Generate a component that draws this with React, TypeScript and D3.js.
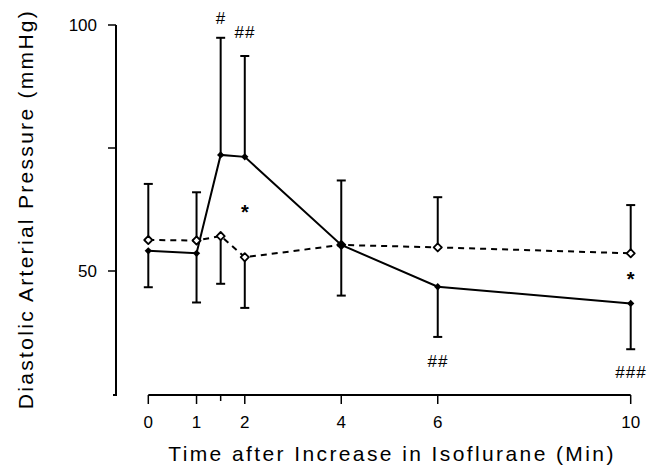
import React from "react";
import * as d3 from "d3";

// minutes after the isoflurane increase
const times = [0, 1, 1.5, 2, 4, 6, 10];
// solid line, filled diamonds
const solidMean = [54.1, 53.6, 73.6, 73.2, 55.3, 46.8, 43.4];
const solidBarEnd = [46.7, 43.6, 97.4, 93.7, 45.0, 36.6, 34.1];
// dashed line, open diamonds
const openMean = [56.3, 56.2, 57.1, 52.8, 55.3, 54.8, 53.6];
const openBarEnd = [67.7, 66.0, 47.4, 42.5, 68.4, 65.0, 63.4];

const xTicks = [0, 1, 1.5, 2, 4, 6, 10];
const xTickLabels = ["0", "1", "", "2", "4", "6", "10"];
const yTicks = [100, 75, 50];
const yTickLabels = ["100", "", "50"];

const marks = [
  { t: 1.5, v: 100.2, text: "#" },
  { t: 2, v: 97.4, text: "##" },
  { t: 6, v: 30.5, text: "##" },
  { t: 10, v: 28.3, text: "###" },
];
const stars = [
  { t: 2, v: 62.4 },
  { t: 10, v: 48.8 },
];

const width = 666;
const height = 469;
const font = "'Liberation Sans', Arial, Helvetica, sans-serif";

export default function App() {
  const x = d3.scaleLinear().domain([0, 10]).range([148.3, 630.7]);
  const y = d3.scaleLinear().domain([25, 100]).range([394, 25]);

  const line = d3
    .line<number>()
    .x((_, i) => x(times[i]))
    .y((d) => y(d));

  const diamond = d3.symbol().type(d3.symbolDiamond2);
  const capW = 4.5;
  const axisY = 395;
  const yAxisX = 116;

  const errorBars = (means: number[], ends: number[], key: string) =>
    means.map((m, i) => (
      <g key={key + i} stroke="#000" strokeWidth={2}>
        <line x1={x(times[i])} x2={x(times[i])} y1={y(m)} y2={y(ends[i])} />
        <line
          x1={x(times[i]) - capW}
          x2={x(times[i]) + capW}
          y1={y(ends[i])}
          y2={y(ends[i])}
        />
      </g>
    ));

  return (
    <svg
      width={width}
      height={height}
      style={{ position: "absolute", left: 0, top: 0, background: "#fff" }}
      fontFamily={font}
    >
      {/* y axis */}
      <line x1={yAxisX} x2={yAxisX} y1={y(100)} y2={axisY} stroke="#000" strokeWidth={2} />
      <line x1={yAxisX - 3} x2={yAxisX + 1} y1={axisY} y2={axisY} stroke="#000" strokeWidth={2} />
      {yTicks.map((t, i) => (
        <g key={"yt" + t}>
          <line x1={yAxisX - 8} x2={yAxisX} y1={y(t)} y2={y(t)} stroke="#000" strokeWidth={1.5} />
          <text x={yAxisX - 19} y={y(t) + 6} textAnchor="end" fontSize={17} fontWeight={500}>
            {yTickLabels[i]}
          </text>
        </g>
      ))}
      <text
        transform={`translate(33,${209}) rotate(-90)`}
        textAnchor="middle"
        fontSize={21}
        letterSpacing={2.3}
      >
        Diastolic Arterial Pressure (mmHg)
      </text>

      {/* x axis */}
      <line x1={x(0)} x2={x(10)} y1={axisY} y2={axisY} stroke="#000" strokeWidth={2} />
      {xTicks.map((t, i) => (
        <g key={"xt" + t}>
          <line
            x1={x(t)}
            x2={x(t)}
            y1={axisY}
            y2={axisY + (xTickLabels[i] ? 9 : 6)}
            stroke="#000"
            strokeWidth={1.5}
          />
          <text x={x(t)} y={428} textAnchor="middle" fontSize={17}>
            {xTickLabels[i]}
          </text>
        </g>
      ))}
      <text x={392} y={461} textAnchor="middle" fontSize={21} letterSpacing={2.4}>
        Time after Increase in Isoflurane (Min)
      </text>

      {/* error bars */}
      {errorBars(solidMean, solidBarEnd, "se")}
      {errorBars(openMean, openBarEnd, "oe")}

      {/* lines */}
      <path d={line(openMean) ?? ""} fill="none" stroke="#000" strokeWidth={2} strokeDasharray="6,5" />
      <path d={line(solidMean) ?? ""} fill="none" stroke="#000" strokeWidth={2} />

      {/* markers */}
      {openMean.map((v, i) => (
        <path
          key={"om" + i}
          d={diamond.size(42)() ?? ""}
          transform={`translate(${x(times[i])},${y(v)})`}
          fill="#fff"
          stroke="#000"
          strokeWidth={1.8}
          strokeLinejoin="round"
        />
      ))}
      {solidMean.map((v, i) => (
        <path
          key={"sm" + i}
          d={diamond.size(34)() ?? ""}
          transform={`translate(${x(times[i])},${y(v)})`}
          fill="#000"
        />
      ))}

      {/* significance marks */}
      {marks.map((m, i) => (
        <text
          key={"mk" + i}
          x={x(m.t)}
          y={y(m.v)}
          textAnchor="middle"
          fontSize={17}
          fontStyle="italic"
          letterSpacing={1}
        >
          {m.text}
        </text>
      ))}
      {stars.map((s, i) => (
        <text
          key={"st" + i}
          x={x(s.t)}
          y={y(s.v) + 9}
          textAnchor="middle"
          fontSize={20}
          fontWeight="bold"
        >
          *
        </text>
      ))}
    </svg>
  );
}
